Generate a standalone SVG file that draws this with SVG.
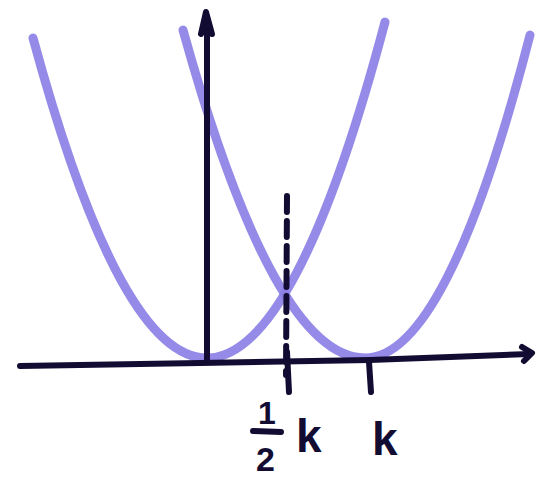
<svg xmlns="http://www.w3.org/2000/svg" width="539" height="483" viewBox="0 0 539 483">
<style>
.par{fill:none;stroke:#8a7de6;stroke-width:9;stroke-linecap:round;opacity:0.9}
.ax{fill:none;stroke:#120c33;stroke-width:6;stroke-linecap:round;stroke-linejoin:round}
.lbl{font-family:"Liberation Sans",sans-serif;font-weight:bold;fill:#120c33}
</style>
<rect width="539" height="483" fill="#ffffff"/>
<g id="curves">
<path id="parabola-origin" class="par" d="M33,38 Q209,686 385,22"/>
<path id="parabola-k" class="par" d="M183,30 Q274,358 365,358 Q447,358 530,35"/>
</g>
<g id="connectors">
<path id="x-axis" class="ax" d="M20,366 L200,363 L370,360 L530,354"/>
<path class="ax" d="M522,347 L532,353 L524,361"/>
<path id="y-axis" class="ax" d="M207,362 L207,18"/>
<path class="ax" d="M201,34 L206,12 L212,34"/>
<path id="half-k-dash" class="ax" stroke-width="5" stroke-dasharray="16,9" d="M287,196 L286,375"/>
<path id="half-k-tick" class="ax" d="M287,352 L289,392"/>
<path id="k-tick" class="ax" d="M369,362 L371,392"/>
</g>
<g id="labels">
<text class="lbl" x="258" y="424" font-size="32">1</text>
<path class="ax" stroke-width="5" d="M253,431 L281,432"/>
<text class="lbl" x="256" y="471" font-size="34">2</text>
<text class="lbl" x="296" y="452" font-size="46">k</text>
<text class="lbl" x="372" y="455" font-size="46">k</text>
</g>
</svg>
